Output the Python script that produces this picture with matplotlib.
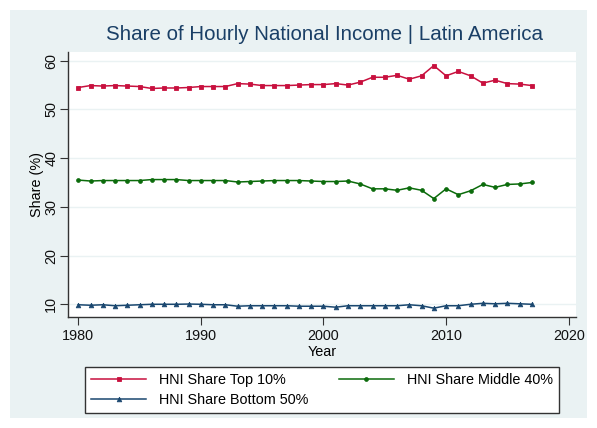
import matplotlib.pyplot as plt
from matplotlib.patches import Rectangle
import numpy as np

# data
years = list(range(1980, 2018))
top10 = [54.5, 54.9, 54.8, 54.9, 54.8, 54.7, 54.3, 54.4, 54.4, 54.5,
         54.7, 54.7, 54.7, 55.3, 55.2, 54.9, 54.9, 54.9, 55.0, 55.1,
         55.1, 55.3, 55.0, 55.6, 56.6, 56.6, 57.0, 56.2, 56.9, 59.0,
         56.9, 57.8, 56.9, 55.4, 56.0, 55.3, 55.2, 54.9]
mid40 = [35.5, 35.3, 35.4, 35.4, 35.4, 35.4, 35.6, 35.6, 35.6, 35.4,
         35.4, 35.4, 35.4, 35.1, 35.2, 35.3, 35.4, 35.4, 35.4, 35.3,
         35.2, 35.2, 35.3, 34.7, 33.7, 33.7, 33.4, 33.9, 33.4, 31.7,
         33.7, 32.5, 33.3, 34.6, 34.0, 34.6, 34.7, 35.0]
bot50 = [9.9, 9.8, 9.9, 9.7, 9.8, 9.9, 10.0, 10.0, 10.0, 10.05,
         10.0, 9.9, 9.9, 9.6, 9.7, 9.7, 9.7, 9.7, 9.6, 9.6,
         9.6, 9.4, 9.7, 9.7, 9.7, 9.7, 9.7, 9.9, 9.7, 9.2,
         9.7, 9.7, 10.0, 10.2, 10.1, 10.2, 10.1, 10.0]
labels = ['HNI Share Top 10%', 'HNI Share Middle 40%', 'HNI Share Bottom 50%']

plt.rcParams['font.family'] = ['Liberation Sans', 'DejaVu Sans']

W, H = 597, 428
fig = plt.figure(figsize=(W/100, H/100), dpi=100)
fig.patch.set_facecolor('white')
fig.patches.append(Rectangle((10/W, 10/H), 577/W, 408/H, transform=fig.transFigure,
                             facecolor='#EAF2F3', edgecolor='none', zorder=-10))

# plot region (pixels): x 68..576, y 51.7..316.7
ax = fig.add_axes([68/W, 1-316.7/H, (576-68)/W, (316.7-51.7)/H])
ax.set_facecolor('white')

l1, = ax.plot(years, top10, color='#C8103E', lw=1.1, marker='s', ms=3.4, mew=0.6)
l2, = ax.plot(years, mid40, color='#0B6B0B', lw=1.1, marker='o', ms=2.8, mew=0.5)
l3, = ax.plot(years, bot50, color='#1A476F', lw=1.1, marker='^', ms=3.4, mew=0.5)

ax.set_xlim(1979.16, 2020.6)
ax.set_ylim(7.45, 61.85)
ax.set_xticks([1980, 1990, 2000, 2010, 2020])
ax.set_yticks([10, 20, 30, 40, 50, 60])
ax.grid(axis='y', color='#EAF2F3', lw=1)
ax.set_axisbelow(True)
for s in ['top', 'right']:
    ax.spines[s].set_visible(False)
for s in ['left', 'bottom']:
    ax.spines[s].set_color('#333333')
    ax.spines[s].set_linewidth(1)
ax.tick_params(labelsize=10.4, length=5.5, color='#333333', labelcolor='#111111', pad=3.5)
ax.tick_params(axis='y', pad=1.5)
plt.setp(ax.get_yticklabels(), rotation=90, va='center')
ax.set_xlabel('Year', fontsize=10.4, labelpad=1.5)
ax.set_ylabel('Share (%)', fontsize=10.4, labelpad=0.5)

fig.text(324/W, 1-35/H, 'Share of Hourly National Income | Latin America',
         ha='center', va='center', fontsize=14.8, color='#1A3F66')

# column-wise fill: col1 = top10, bottom50 ; col2 = middle40
leg = fig.legend([l1, l3, l2], [labels[0], labels[2], labels[1]], ncol=2, loc='center',
                 bbox_to_anchor=(322/W, 1-390/H),
                 fontsize=10.4, handlelength=3.8, handletextpad=0.9, numpoints=1,
                 columnspacing=2.1, borderpad=0.45,
                 fancybox=False, frameon=True, framealpha=1, borderaxespad=0,
                 labelspacing=0.4)
leg.get_frame().set_edgecolor('#333333')
leg.get_frame().set_facecolor('white')
leg.get_frame().set_linewidth(1)

plt.savefig('out.png', dpi=100)
